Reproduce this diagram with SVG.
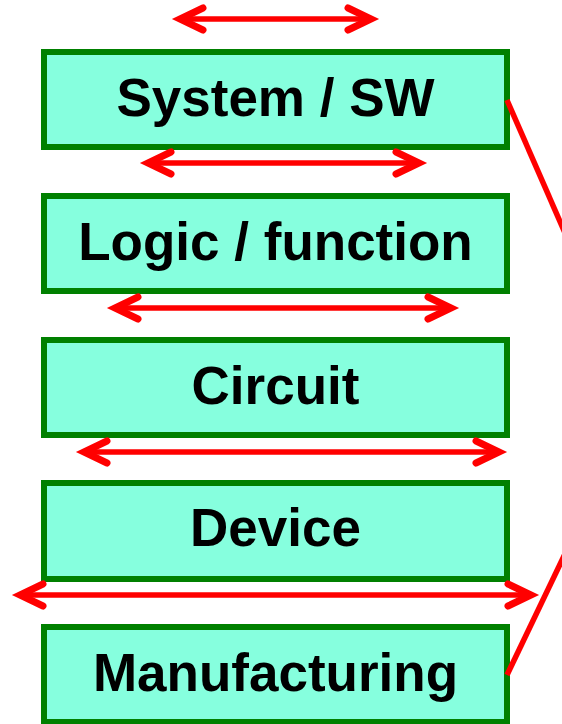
<svg xmlns="http://www.w3.org/2000/svg" width="562" height="724" viewBox="0 0 562 724">
<style>
.box{fill:#86FFDE;stroke:#008000;stroke-width:6}
.lbl{font-family:"Liberation Sans",Arial,sans-serif;font-weight:bold;font-size:53px;fill:#000;text-anchor:middle}
.arr{fill:none;stroke:#FF0000;stroke-width:5.5;stroke-linecap:round}
.hd{fill:none;stroke:#FF0000;stroke-width:7;stroke-linecap:round;stroke-linejoin:miter;stroke-miterlimit:10}
.ln{fill:none;stroke:#FF0000;stroke-width:5.5}
</style>
<rect width="562" height="724" fill="#FFFFFF"/>
<g id="system"><rect class="box" x="44" y="52" width="463" height="95"/><text class="lbl" x="275.5" y="116">System / SW</text></g>
<g id="logic"><rect class="box" x="44" y="196" width="463" height="95"/><text class="lbl" x="275.5" y="260">Logic / function</text></g>
<g id="circuit"><rect class="box" x="44" y="340" width="463" height="95"/><text class="lbl" x="275.5" y="404">Circuit</text></g>
<g id="device"><rect class="box" x="44" y="483" width="463" height="96"/><text class="lbl" x="275.5" y="546">Device</text></g>
<g id="manufacturing"><rect class="box" x="44" y="627" width="463" height="95"/><text class="lbl" x="275.5" y="691">Manufacturing</text></g>
<g id="connectors">
<path class="arr" d="M180,19 H371"/><path class="hd" d="M203,8 L180,19 L203,30 M348,8 L371,19 L348,30"/>
<path class="arr" d="M148,163 H419"/><path class="hd" d="M171,152 L148,163 L171,174 M396,152 L419,163 L396,174"/>
<path class="arr" d="M115,308 H451"/><path class="hd" d="M138,297 L115,308 L138,319 M428,297 L451,308 L428,319"/>
<path class="arr" d="M84,452 H499"/><path class="hd" d="M107,441 L84,452 L107,463 M476,441 L499,452 L476,463"/>
<path class="arr" d="M20,595 H531"/><path class="hd" d="M43,584 L20,595 L43,606 M508,584 L531,595 L508,606"/>
<path class="ln" d="M507,100 L575,256"/>
<path class="ln" d="M507,675 L575,533"/>
</g>
</svg>
